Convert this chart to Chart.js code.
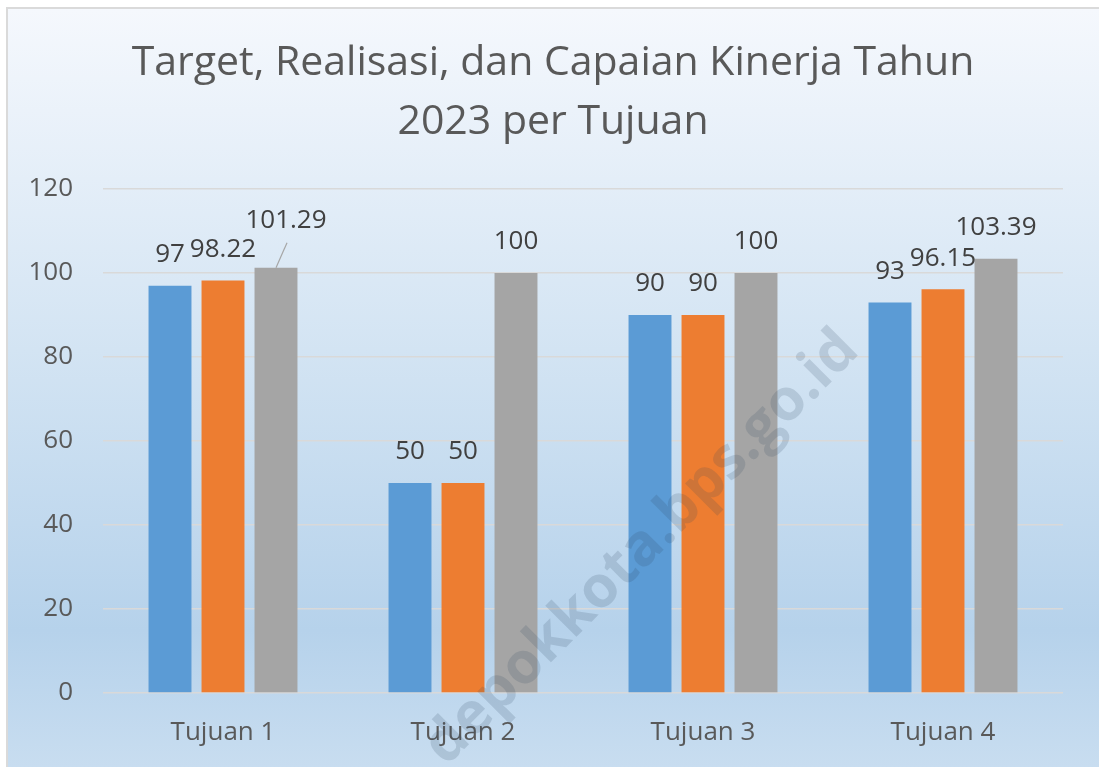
<!DOCTYPE html>
<html>
<head>
<meta charset="utf-8">
<script src="https://cdn.jsdelivr.net/npm/chart.js@4.4.0/dist/chart.umd.min.js"></script>
<style>
    html, body { margin: 0; padding: 0; background: #ffffff; }
    #frame {
        position: absolute; left: 6px; top: 7px; right: 0; bottom: 0;
        border-left: 2px solid #dadada; border-top: 2px solid #dadada;
        background: linear-gradient(to bottom, #f5f8fd 0%, #d3e4f3 45%, #b6d2eb 82%, #c8ddf0 100%);
    }
    #wrap { position: absolute; left: 0; top: 0; width: 1099px; height: 767px; }
</style>
</head>
<body>
<div id="frame"></div>
<div id="wrap"><canvas id="myChart" width="1099" height="767"></canvas></div>
<script>
const categories = ['Tujuan 1', 'Tujuan 2', 'Tujuan 3', 'Tujuan 4'];
const seriesNames = ['Target', 'Realisasi', 'Capaian'];
const targetValues = [97, 50, 90, 93];
const realisasiValues = [98.22, 50, 90, 96.15];
const capaianValues = [101.29, 100, 100, 103.39];
const yTicks = [0, 20, 40, 60, 80, 100, 120];

const colors = ['#5b9bd5', '#ed7d31', '#a5a5a5'];
const fontFamily = '"Open Sans", "Noto Sans", sans-serif';

// labels above bars, Excel style; one label was dragged away with a leader line
const valueLabels = {
    id: 'valueLabels',
    afterDatasetsDraw(chart, args, opts) {
        const ctx = chart.ctx;
        ctx.save();
        ctx.font = `26px ${fontFamily}`;
        ctx.fillStyle = '#404040';
        ctx.textAlign = 'center';
        ctx.textBaseline = 'middle';
        chart.data.datasets.forEach((ds, di) => {
            chart.getDatasetMeta(di).data.forEach((bar, i) => {
                const moved = (opts.moved || {})[di + ':' + i];
                let x = bar.x, y = bar.y - 31;
                if (moved) {
                    x += moved[0]; y += moved[1];
                    ctx.strokeStyle = '#a6a6a6';
                    ctx.lineWidth = 1.2;
                    ctx.beginPath();
                    ctx.moveTo(bar.x, bar.y);
                    ctx.lineTo(x + 1, y + 22);
                    ctx.stroke();
                }
                ctx.fillText(String(ds.data[i]), x, y);
            });
        });
        ctx.restore();
    }
};

const watermark = {
    id: 'watermark',
    afterDraw(chart) {
        const ctx = chart.ctx;
        ctx.save();
        ctx.translate(642, 548);
        ctx.rotate(-45 * Math.PI / 180);
        ctx.font = `bold 58px ${fontFamily}`;
        ctx.fillStyle = 'rgba(50, 70, 95, 0.17)';
        ctx.textAlign = 'center';
        ctx.textBaseline = 'middle';
        ctx.fillText('depokkota.bps.go.id', 0, 0);
        ctx.restore();
    }
};

const ctx = document.getElementById('myChart').getContext('2d');

new Chart(ctx, {
    type: 'bar',
    data: {
        labels: categories,
        datasets: [targetValues, realisasiValues, capaianValues].map((vals, i) => ({
            label: seriesNames[i],
            data: vals,
            backgroundColor: colors[i],
            borderWidth: 0,
            categoryPercentage: 0.6625,
            barPercentage: 0.81,
        })),
    },
    options: {
        responsive: false,
        animation: false,
        devicePixelRatio: 1,
        layout: {
            padding: { left: 7, right: 0, top: 0, bottom: 0 }
        },
        plugins: {
            legend: { display: false },
            tooltip: { enabled: false },
            title: {
                display: true,
                text: ['Target, Realisasi, dan Capaian Kinerja Tahun', '2023 per Tujuan'],
                color: '#595959',
                font: { family: fontFamily, size: 41, weight: 'normal', lineHeight: 1.44 },
                padding: { top: 34, bottom: 37 },
            },
            valueLabels: {
                moved: { '2:0': [10, -16] }
            },
        },
        scales: {
            y: {
                min: 0,
                max: 120,
                afterBuildTicks: (scale) => { scale.ticks = yTicks.map(v => ({ value: v })); },
                afterFit: (scale) => { scale.width = 96; },
                ticks: {
                    color: '#595959',
                    padding: 30,
                    font: { family: fontFamily, size: 26 },
                },
                grid: {
                    color: '#d9d9d9',
                    lineWidth: 1.5,
                    drawTicks: false,
                },
                border: { display: false },
            },
            // empty right-hand axis, only keeps the plot clear of the right edge
            spacer: {
                type: 'linear',
                position: 'right',
                afterFit: (scale) => { scale.width = 36; },
                ticks: { display: false },
                grid: { display: false, drawTicks: false },
                border: { display: false },
            },
            x: {
                afterFit: (scale) => { scale.height = 74; },
                ticks: {
                    color: '#595959',
                    padding: 24,
                    font: { family: fontFamily, size: 26 },
                },
                grid: { display: false, drawTicks: false },
                border: { display: false },
            },
        },
    },
    plugins: [valueLabels, watermark],
});
</script>
</body>
</html>
